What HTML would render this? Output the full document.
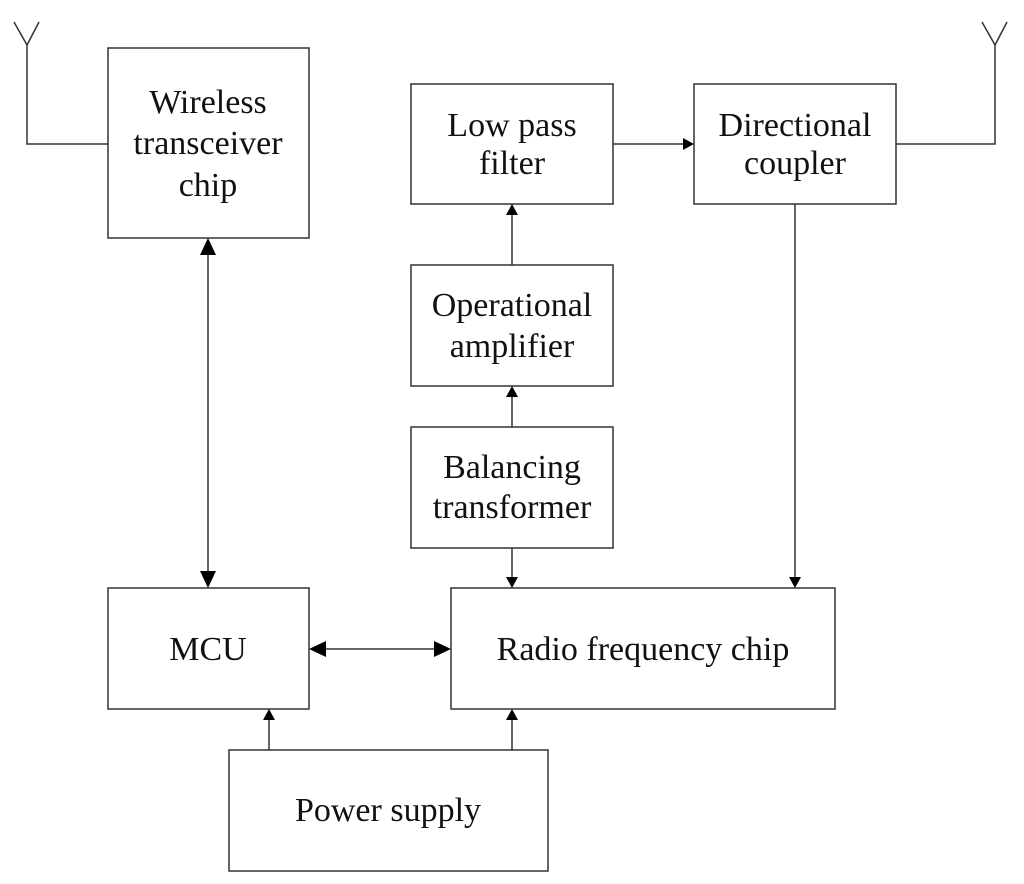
<!DOCTYPE html>
<html><head><meta charset="utf-8"><style>
html,body{margin:0;padding:0;background:#fff;}
svg{display:block;}
text{font-family:"Liberation Serif",serif;font-size:34px;fill:#111;text-anchor:middle;}
</style></head><body>
<svg width="1024" height="884" viewBox="0 0 1024 884" xmlns="http://www.w3.org/2000/svg">
<g fill="none" stroke="#333" stroke-width="1.5">
<rect x="108" y="48" width="201" height="190"/>
<rect x="411" y="84" width="202" height="120"/>
<rect x="694" y="84" width="202" height="120"/>
<rect x="411" y="265" width="202" height="121"/>
<rect x="411" y="427" width="202" height="121"/>
<rect x="108" y="588" width="201" height="121"/>
<rect x="451" y="588" width="384" height="121"/>
<rect x="229" y="750" width="319" height="121"/>
<polyline points="14,22 27,45 39,22"/>
<polyline points="27,45 27,144 108,144"/>
<polyline points="982,22 995,45 1007,22"/>
<polyline points="995,45 995,144 896,144"/>
<line x1="208" y1="254" x2="208" y2="572"/>
<line x1="325" y1="649" x2="435" y2="649"/>
<line x1="613" y1="144" x2="684" y2="144"/>
<line x1="512" y1="265" x2="512" y2="214"/>
<line x1="512" y1="427" x2="512" y2="396"/>
<line x1="512" y1="548" x2="512" y2="578"/>
<line x1="795" y1="204" x2="795" y2="578"/>
<line x1="269" y1="750" x2="269" y2="719"/>
<line x1="512" y1="750" x2="512" y2="719"/>
</g>
<g fill="#000">
<polygon points="208,238 200,255 216,255"/>
<polygon points="208,588 200,571 216,571"/>
<polygon points="309,649 326,641 326,657"/>
<polygon points="451,649 434,641 434,657"/>
<polygon points="694,144 683,138 683,150"/>
<polygon points="512,204 506,215 518,215"/>
<polygon points="512,386 506,397 518,397"/>
<polygon points="512,588 506,577 518,577"/>
<polygon points="795,588 789,577 801,577"/>
<polygon points="269,709 263,720 275,720"/>
<polygon points="512,709 506,720 518,720"/>
</g>
<text x="208" y="113">Wireless</text>
<text x="208" y="154">transceiver</text>
<text x="208" y="196">chip</text>
<text x="512" y="136">Low pass</text>
<text x="512" y="174">filter</text>
<text x="795" y="136">Directional</text>
<text x="795" y="174">coupler</text>
<text x="512" y="316">Operational</text>
<text x="512" y="357">amplifier</text>
<text x="512" y="478">Balancing</text>
<text x="512" y="518">transformer</text>
<text x="208" y="660">MCU</text>
<text x="643" y="660">Radio frequency chip</text>
<text x="388" y="821">Power supply</text>
</svg>
</body></html>
